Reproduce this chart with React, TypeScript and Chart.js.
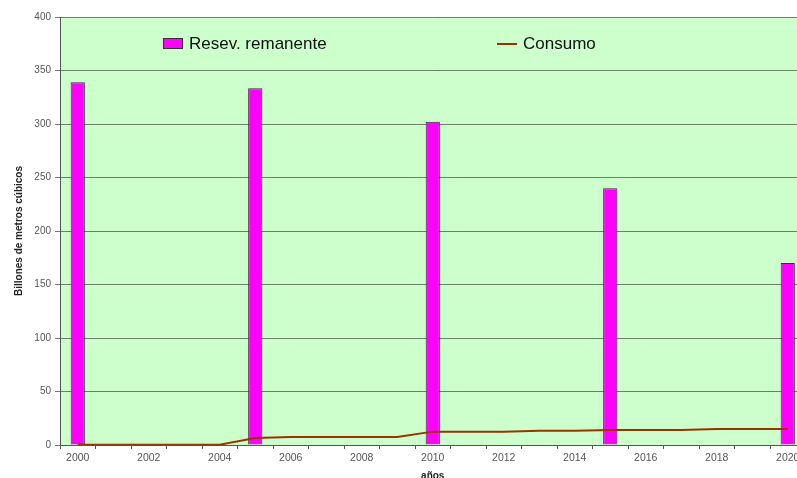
import React, { useEffect, useRef } from "react";
import { Chart, registerables } from "chart.js";

Chart.register(...registerables);

const years = ["2000","2001","2002","2003","2004","2005","2006","2007","2008","2009","2010","2011","2012","2013","2014","2015","2016","2017","2018","2019","2020"];
const reserva = [339, null, null, null, null, 333.5, null, null, null, null, 302, null, null, null, null, 240, null, null, null, null, 170];
const consumo = [0.3, 0.3, 0.3, 0.3, 0.3, 6.5, 7.5, 7.5, 7.5, 7.5, 12.5, 12.5, 12.5, 13.3, 13.3, 14, 14, 14, 15, 15, 15];
const yTicks = [0, 50, 100, 150, 200, 250, 300, 350, 400];

const FONT = "'Liberation Sans', Arial, sans-serif";

const bgPlugin = {
  id: "bgPlugin",
  beforeDraw(chart: any) {
    const { ctx, chartArea } = chart;
    ctx.save();
    ctx.fillStyle = "#CCFFCC";
    ctx.fillRect(chartArea.left, chartArea.top, chartArea.right - chartArea.left, chartArea.bottom - chartArea.top);
    ctx.restore();
  },
};

const legendPlugin = {
  id: "innerLegend",
  afterDraw(chart: any) {
    const { ctx } = chart;
    const ds = chart.data.datasets;
    ctx.save();
    ctx.font = `17px ${FONT}`;
    ctx.textBaseline = "middle";
    ctx.fillStyle = ds[1].backgroundColor;
    ctx.fillRect(163, 38.5, 20, 10);
    ctx.strokeStyle = "#333";
    ctx.lineWidth = 1;
    ctx.strokeRect(163.5, 38.5, 19, 10);
    ctx.fillStyle = "#111";
    ctx.fillText(ds[1].label, 189, 44);
    ctx.strokeStyle = ds[0].borderColor;
    ctx.lineWidth = 2;
    ctx.beginPath();
    ctx.moveTo(497, 44);
    ctx.lineTo(517, 44);
    ctx.stroke();
    ctx.fillText(ds[0].label, 523, 44);
    ctx.restore();
  },
};

export default function App() {
  const ref = useRef<HTMLCanvasElement>(null);
  useEffect(() => {
    if (!ref.current) return;
    const chart = new Chart(ref.current, {
      type: "bar",
      data: {
        labels: years,
        datasets: [
          {
            type: "line",
            label: "Consumo",
            data: consumo,
            borderColor: "#993300",
            backgroundColor: "#993300",
            borderWidth: 2,
            pointRadius: 0,
            tension: 0,
            order: 0,
          } as any,
          {
            type: "bar",
            label: "Resev. remanente",
            data: reserva,
            backgroundColor: "#FF00FF",
            borderColor: "#3a2a3a",
            borderWidth: 1,
            categoryPercentage: 1,
            barPercentage: 0.4,
            order: 1,
          } as any,
        ],
      },
      options: {
        animation: false,
        responsive: false,
        layout: { padding: { top: 17, right: 14.5, left: 13, bottom: 0 } },
        plugins: {
          legend: { display: false },
          tooltip: { enabled: false },
        },
        scales: {
          x: {
            offset: true,
            grid: {
              offset: true,
              drawOnChartArea: false,
              drawTicks: true,
              tickLength: 4,
              color: "#555",
            },
            border: { color: "#555", width: 1 },
            ticks: {
              autoSkip: false,
              maxRotation: 0,
              color: "#555",
              font: { family: FONT, size: 10.5 },
              padding: 3,
              callback: (v: any, i: number) => (Number(years[i]) % 2 === 0 ? years[i] : ""),
            },
            title: {
              display: true,
              text: "años",
              color: "#222",
              font: { family: FONT, size: 10, weight: "bold" },
              padding: { top: 0, bottom: 0 },
            },
            afterFit: (s: any) => { s.height = 37; },
          },
          y: {
            min: 0,
            max: 400,
            afterBuildTicks: (s: any) => { s.ticks = yTicks.map((v) => ({ value: v })); },
            grid: {
              color: "#6a806a",
              tickLength: 5,
              drawTicks: true,
            },
            border: { color: "#555", width: 1 },
            ticks: {
              color: "#555",
              font: { family: FONT, size: 10 },
              padding: 4,
            },
            title: {
              display: true,
              text: "Billones de metros cúbicos",
              color: "#222",
              font: { family: FONT, size: 10, weight: "bold" },
              padding: { top: 0, bottom: 0 },
            },
            afterFit: (s: any) => { s.width = 47; },
          },
        },
      },
      plugins: [bgPlugin, legendPlugin],
    });
    return () => chart.destroy();
  }, []);
  return (
    <div style={{ position: "absolute", left: 0, top: 0, width: 797, height: 478, overflow: "hidden", background: "#fff" }}>
      <canvas ref={ref} width={820} height={482} style={{ width: 820, height: 482, display: "block" }} />
    </div>
  );
}
